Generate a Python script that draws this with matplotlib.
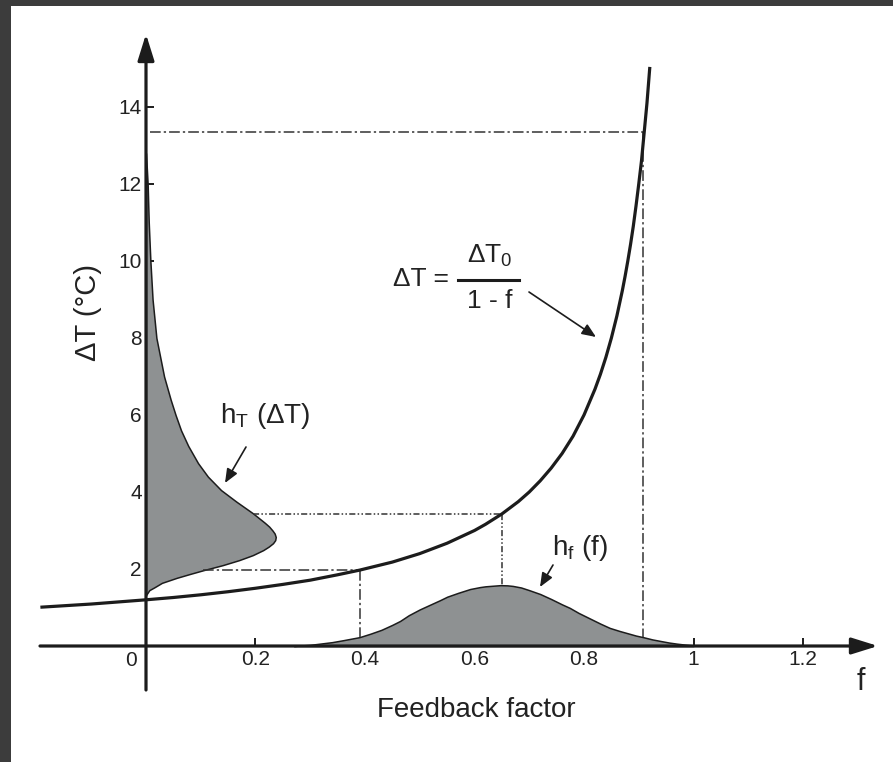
import matplotlib
matplotlib.use('Agg')
import matplotlib.pyplot as plt

# main curve dT = dT0 / (1 - f)
curve_f = [-0.19, -0.1, 0.0, 0.05, 0.1, 0.15, 0.2, 0.25, 0.3, 0.35, 0.39, 0.45, 0.5, 0.55,
           0.6, 0.62, 0.65, 0.68, 0.7, 0.72, 0.74, 0.76, 0.78, 0.8, 0.82, 0.83, 0.84, 0.85,
           0.86, 0.87, 0.875, 0.88, 0.885, 0.89, 0.895, 0.9, 0.905, 0.91, 0.915, 0.92]
curve_dt = [1.01, 1.09, 1.2, 1.26, 1.33, 1.41, 1.5, 1.6, 1.71, 1.85, 1.97, 2.18, 2.4, 2.67,
            3.0, 3.16, 3.43, 3.75, 4.0, 4.29, 4.62, 5.0, 5.45, 6.0, 6.67, 7.06, 7.5, 8.0,
            8.57, 9.23, 9.6, 10.0, 10.43, 10.9, 11.43, 12.0, 12.6, 13.35, 14.1, 15.0]

# h_T(dT): width (in f units) of the shaded shape along the y axis
ht_dt = [1.32, 1.45, 1.53, 1.64, 1.77, 1.87, 1.97, 2.1, 2.23, 2.36, 2.49, 2.58, 2.67, 2.75,
         2.83, 2.92, 3.0, 3.1, 3.2, 3.45, 3.75, 4.05, 4.4, 4.75, 5.2, 5.6, 6.0, 6.4, 7.0,
         8.0, 9.0, 10.0, 11.0, 12.0, 12.8]
ht_w = [0.0, 0.006, 0.016, 0.029, 0.056, 0.08, 0.105, 0.14, 0.17, 0.195, 0.214, 0.224,
        0.232, 0.236, 0.237, 0.235, 0.231, 0.225, 0.217, 0.195, 0.165, 0.137, 0.113, 0.095,
        0.077, 0.064, 0.054, 0.045, 0.033, 0.019, 0.012, 0.008, 0.005, 0.003, 0.0]

# h_f(f)
hf_f = [0.27, 0.30, 0.34, 0.36, 0.39, 0.41, 0.43, 0.45, 0.464, 0.48, 0.50, 0.52, 0.537,
        0.55, 0.57, 0.592, 0.61, 0.62, 0.647, 0.66, 0.67, 0.685, 0.70, 0.72, 0.74, 0.76,
        0.774, 0.79, 0.81, 0.83, 0.847, 0.865, 0.88, 0.895, 0.908, 0.925, 0.94, 0.955,
        0.97, 0.985, 1.0]
hf_v = [0.0, 0.03, 0.1, 0.15, 0.23, 0.32, 0.42, 0.55, 0.65, 0.8, 0.95, 1.08, 1.19,
        1.28, 1.38, 1.48, 1.53, 1.55, 1.58, 1.575, 1.56, 1.52, 1.45, 1.35, 1.22, 1.08,
        0.99, 0.86, 0.72, 0.58, 0.47, 0.39, 0.33, 0.27, 0.23, 0.17, 0.13, 0.09,
        0.06, 0.035, 0.015]

# guide lines: f, dT on curve, where horizontal starts, where vertical ends
guide_f = [0.39, 0.65, 0.908]
guide_dt = [1.97, 3.43, 13.35]
guide_h0 = [0.105, 0.195, 0.008]
guide_v0 = [0.23, 1.58, 0.23]

xticks = [0.2, 0.4, 0.6, 0.8, 1.0, 1.2]
xtick_labels = ['0.2', '0.4', '0.6', '0.8', '1', '1.2']
yticks = [2, 4, 6, 8, 10, 12, 14]

# pixel layout of the reference
X0, SX = 146, 547.5
Y0, SY = 646, 38.5
W, H = 893, 762


def px(x, y):
    return (x - X0) / SX, (Y0 - y) / SY


plt.rcParams['font.family'] = ['Liberation Sans', 'DejaVu Sans']
plt.rcParams['mathtext.default'] = 'regular'

ink = '#1c1c1c'
txt = '#222222'
gray = '#8e9192'

fig = plt.figure(figsize=(W / 100, H / 100), dpi=100, facecolor='#3c3c3c')
ax = fig.add_axes([11 / W, 0, (W - 11) / W, (H - 6) / H])
ax.set_facecolor('white')
ax.set_xlim(px(11, 0)[0], px(W, 0)[0])
ax.set_ylim(px(0, H)[1], px(0, 6)[1])

for s in ['top', 'right', 'left', 'bottom']:
    ax.spines[s].set_visible(False)
ax.spines['left'].set_position(('data', 0))
ax.spines['bottom'].set_position(('data', 0))

ax.set_xticks(xticks)
ax.set_xticklabels(xtick_labels)
ax.set_yticks(yticks)
ax.tick_params(direction='in', length=6, width=1.4, color=ink, labelsize=15,
               labelcolor=txt, pad=3)

# shaded distributions
ax.fill_betweenx(ht_dt, 0, ht_w, facecolor=gray, edgecolor=ink, lw=1.1, zorder=2)
ax.fill_between(hf_f, 0, hf_v, facecolor=gray, edgecolor=ink, lw=1.1, zorder=2)

# guide lines
styles = [(0, (7, 2, 1.5, 2)), (0, (4, 1.5, 1, 1.5, 1, 1.5)), (0, (7, 2, 1.5, 2))]
for f, dt, h0, v0, ls in zip(guide_f, guide_dt, guide_h0, guide_v0, styles):
    ax.plot([h0, f], [dt, dt], color='#333333', lw=1.1, linestyle=ls, zorder=3)
    ax.plot([f, f], [dt, v0], color='#333333', lw=1.1, linestyle=ls, zorder=3)

# main curve
ax.plot(curve_f, curve_dt, color=ink, lw=2.3, zorder=4, solid_joinstyle='round')

# axes with arrow heads
axis_style = dict(arrowstyle='-|>,head_length=0.8,head_width=0.25', color=ink, lw=2.3,
                  mutation_scale=20, shrinkA=0, shrinkB=0)
ax.annotate('', xy=px(878, Y0), xytext=px(40, Y0), arrowprops=axis_style, zorder=5)
ax.annotate('', xy=px(X0, 34), xytext=px(X0, 690), arrowprops=axis_style, zorder=5)

# labels
ax.text(*px(131, 661), '0', fontsize=15, color=txt, ha='center', va='center')
ax.text(*px(476, 710), 'Feedback factor', fontsize=20, color=txt,
        ha='center', va='center')
ax.text(*px(861, 682), 'f', fontsize=22, color=txt, ha='center', va='center')
ax.text(*px(88, 313), 'ΔT (°C)', fontsize=21, color=txt, rotation=90,
        ha='center', va='center')

# formula
ax.text(*px(421, 279), 'ΔT =', fontsize=19, color=txt, ha='center', va='center')
ax.text(*px(490, 256), 'ΔT$_0$', fontsize=19, color=txt, ha='center', va='center')
ax.plot([px(458, 0)[0], px(519, 0)[0]], [px(0, 280)[1]] * 2, color=ink, lw=2.2)
ax.text(*px(490, 301), '1 - f', fontsize=19, color=txt, ha='center', va='center')

small_arrow = dict(arrowstyle='-|>,head_length=0.6,head_width=0.25', color=ink, lw=1.2,
                   mutation_scale=14, shrinkA=0, shrinkB=0)
ax.annotate('', xy=px(596, 337), xytext=px(529, 292), arrowprops=small_arrow)

ax.text(*px(265, 416), 'h$_T$ (ΔT)', fontsize=20, color=txt, ha='center', va='center')
ax.annotate('', xy=px(225, 483), xytext=px(246, 447), arrowprops=small_arrow)

ax.text(*px(580, 548), 'h$_f$ (f)', fontsize=20, color=txt, ha='center', va='center')
ax.annotate('', xy=px(540, 587), xytext=px(553, 565), arrowprops=small_arrow)

fig.savefig('out.png', dpi=100, facecolor=fig.get_facecolor())
